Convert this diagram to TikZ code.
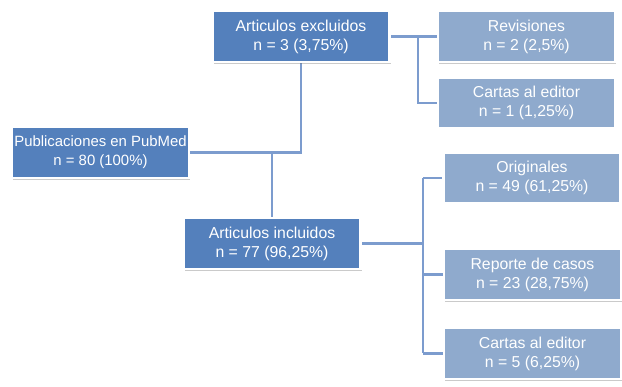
\documentclass[tikz,border=0pt]{standalone}
\usepackage{fontspec}
\setmainfont{Liberation Sans}
\usetikzlibrary{shadows,backgrounds}
\definecolor{darkbox}{RGB}{84,128,188}
\definecolor{lightbox}{RGB}{143,170,205}
\definecolor{conn}{RGB}{124,156,206}
\tikzset{
  boxbase/.style={draw=white, line width=2.5pt, text=white, align=center,
    font=\fontsize{15.8}{19}\selectfont, inner sep=0pt,
    minimum width=177pt, minimum height=51pt,
    drop shadow={shadow xshift=1pt, shadow yshift=-2pt, opacity=0.35, fill=black!60}},
  darkstyle/.style={boxbase, fill=darkbox},
  lightstyle/.style={boxbase, fill=lightbox},
  link/.style={draw=conn, line width=2.4pt}
}
\begin{document}
\begin{tikzpicture}[x=1pt,y=-1pt]
\useasboundingbox (0,0) rectangle (622,387);
\node[darkstyle, font=\fontsize{14.9}{19}\selectfont] (pub) at (100.5,152.5) {Publicaciones en PubMed\\n = 80 (100\%)};
\node[darkstyle] (excl) at (301,36.5) {Articulos excluidos\\n = 3 (3,75\%)};
\node[darkstyle] (incl) at (272,243.5) {Articulos incluidos\\n = 77 (96,25\%)};
\node[lightstyle] (rev) at (526.5,36.5) {Revisiones\\n = 2 (2,5\%)};
\node[lightstyle] (cex) at (526.5,103) {Cartas al editor\\n = 1 (1,25\%)};
\node[lightstyle] (orig) at (532,178) {Originales\\n = 49 (61,25\%)};
\node[lightstyle] (rep) at (532.5,274.5) {Reporte de casos\\n = 23 (28,75\%)};
\node[lightstyle] (cin) at (532.5,353.5) {Cartas al editor\\n = 5 (6,25\%)};
\coordinate (bx1) at (418,36.5);
\coordinate (bx2) at (423,243.5);
\begin{scope}[on background layer]
\draw[link] (pub.east) -- (excl.south |- pub.east) -- (excl.south);
\draw[link] (incl.north |- pub.east) -- (incl.north);
\draw[link] (excl.east) -- (rev.west);
\draw[link] (bx1) |- (cex.west);
\draw[link] (incl.east) -- (bx2);
\draw[link] (bx2 |- orig.west) -- (bx2 |- cin.west);
\draw[link] (bx2 |- orig.west) -- (orig.west);
\draw[link] (bx2 |- rep.west) -- (rep.west);
\draw[link] (bx2 |- cin.west) -- (cin.west);
\end{scope}
\end{tikzpicture}
\end{document}
